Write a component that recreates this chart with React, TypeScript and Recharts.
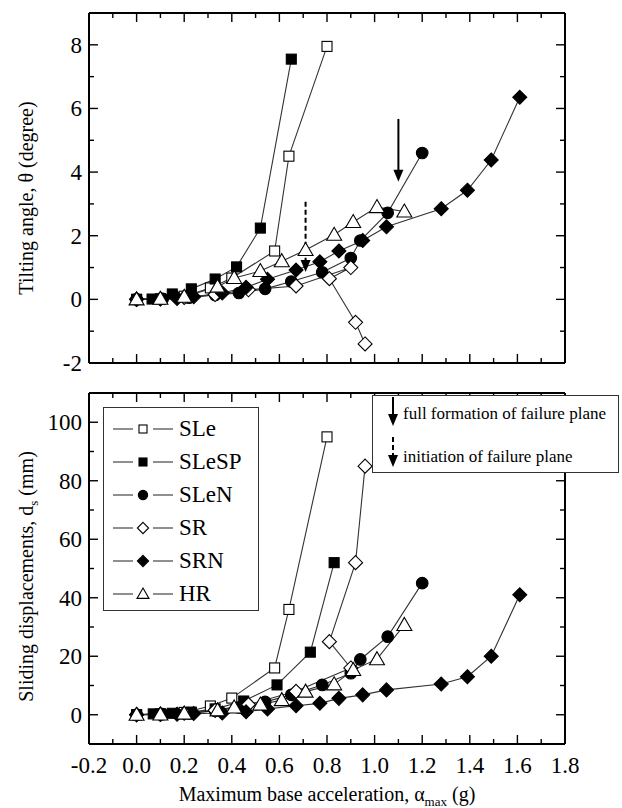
import React from 'react';
import { LineChart, Line, XAxis, YAxis, ReferenceLine, ReferenceDot, Legend } from 'recharts';

const FONT = "'Liberation Serif', 'Times New Roman', Times, serif";

// axis ticks
const xMajorTicks = [-0.2, 0, 0.2, 0.4, 0.6, 0.8, 1.0, 1.2, 1.4, 1.6, 1.8];
const xMinorTicks = [-0.1, 0.1, 0.3, 0.5, 0.7, 0.9, 1.1, 1.3, 1.5, 1.7];
const tiltMajorTicks = [-2, 0, 2, 4, 6, 8];
const tiltMinorTicks = [-1, 1, 3, 5, 7];
const slideMajorTicks = [0, 20, 40, 60, 80, 100];
const slideMinorTicks = [10, 30, 50, 70, 90];

// SLe
const sleTiltX = [0, 0.1, 0.2, 0.31, 0.4, 0.58, 0.64, 0.8];
const sleTiltY = [0, 0.02, 0.1, 0.36, 0.67, 1.52, 4.5, 7.95];
const sleSlideX = [0, 0.1, 0.2, 0.31, 0.4, 0.58, 0.64, 0.8];
const sleSlideY = [0, 0.3, 0.8, 3, 5.7, 16, 36, 95];
// SLeSP
const slespTiltX = [0, 0.065, 0.15, 0.23, 0.33, 0.42, 0.52, 0.65];
const slespTiltY = [0, 0.01, 0.17, 0.33, 0.64, 1.02, 2.24, 7.55];
const slespSlideX = [0, 0.07, 0.15, 0.23, 0.33, 0.45, 0.59, 0.73, 0.83];
const slespSlideY = [0, 0.3, 0.5, 0.9, 2.0, 4.7, 10.2, 21.4, 52];
// SLeN
const slenX = [0, 0.11, 0.22, 0.33, 0.43, 0.54, 0.65, 0.78, 0.9, 0.94, 1.055, 1.2];
const slenTiltY = [0, 0.02, 0.05, 0.14, 0.2, 0.33, 0.56, 0.85, 1.3, 1.85, 2.72, 4.6];
const slenSlideY = [0, 0.2, 0.5, 1.4, 2.5, 4.4, 6.8, 10.2, 14.2, 18.9, 26.7, 45];
// SR (in test order, not sorted by acceleration)
const srX = [0, 0.1, 0.2, 0.33, 0.47, 0.67, 0.9, 0.81, 0.92, 0.96];
const srTiltY = [0, 0.02, 0.06, 0.15, 0.3, 0.42, 1.0, 0.65, -0.72, -1.4];
const srSlideY = [0, 0.2, 0.5, 1.5, 3.5, 8, 16, 25, 52, 85];
// SRN
const srnX = [0, 0.1, 0.17, 0.24, 0.36, 0.46, 0.55, 0.67, 0.77, 0.85, 0.95, 1.05, 1.28, 1.39, 1.49, 1.61];
const srnTiltY = [0, 0.01, 0.03, 0.08, 0.2, 0.38, 0.63, 0.92, 1.18, 1.52, 1.85, 2.28, 2.85, 3.43, 4.38, 6.35];
const srnSlideY = [0, 0.1, 0.2, 0.4, 0.6, 1.0, 2.0, 3.1, 3.9, 5.6, 6.8, 8.5, 10.5, 13.0, 20.0, 41.0];
// HR
const hrX = [0, 0.1, 0.2, 0.34, 0.41, 0.52, 0.61, 0.71, 0.83, 0.91, 1.01, 1.125];
const hrTiltY = [0, 0.02, 0.08, 0.4, 0.67, 0.89, 1.2, 1.55, 2.03, 2.43, 2.9, 2.76];
const hrSlideY = [0, 0.1, 0.4, 1.5, 2.5, 3.5, 5.0, 7.9, 10.4, 15.3, 19.0, 30.7];

// arrows in the tilting panel: [x, start y, tip y]
const fullFormationArrow = [1.1, 5.67, 3.7];
const initiationArrow = [0.71, 3.07, 0.86];

const zip = (xs: number[], ys: number[]) => xs.map((x, i) => ({ x, y: ys[i] }));

type Kind = 'square' | 'circle' | 'diamond' | 'triangle';
const series: { name: string; kind: Kind; filled: boolean; tilt: any[]; slide: any[] }[] = [
  { name: 'SLe', kind: 'square', filled: false, tilt: zip(sleTiltX, sleTiltY), slide: zip(sleSlideX, sleSlideY) },
  { name: 'SLeSP', kind: 'square', filled: true, tilt: zip(slespTiltX, slespTiltY), slide: zip(slespSlideX, slespSlideY) },
  { name: 'SLeN', kind: 'circle', filled: true, tilt: zip(slenX, slenTiltY), slide: zip(slenX, slenSlideY) },
  { name: 'SR', kind: 'diamond', filled: false, tilt: zip(srX, srTiltY), slide: zip(srX, srSlideY) },
  { name: 'SRN', kind: 'diamond', filled: true, tilt: zip(srnX, srnTiltY), slide: zip(srnX, srnSlideY) },
  { name: 'HR', kind: 'triangle', filled: false, tilt: zip(hrX, hrTiltY), slide: zip(hrX, hrSlideY) },
];

const Marker = ({ kind, filled, cx, cy, s = 1 }: { kind: Kind; filled: boolean; cx: number; cy: number; s?: number }) => {
  const st = { fill: filled ? '#000' : '#fff', stroke: '#000', strokeWidth: 1.1 };
  if (kind === 'square') return <rect x={cx - 5 * s} y={cy - 5 * s} width={10 * s} height={10 * s} {...st} />;
  if (kind === 'circle') return <circle cx={cx} cy={cy} r={5.8 * s} {...st} />;
  if (kind === 'diamond') {
    const h = 7 * s;
    return <polygon points={`${cx},${cy - h} ${cx + h},${cy} ${cx},${cy + h} ${cx - h},${cy}`} {...st} />;
  }
  return <polygon points={`${cx},${cy - 7.5 * s} ${cx + 7.5 * s},${cy + 5.5 * s} ${cx - 7.5 * s},${cy + 5.5 * s}`} {...st} />;
};

const isMajor = (v: number, majors: number[]) => majors.some((m) => Math.abs(m - v) < 1e-6);

const makeTick = (side: string, majors: number[], label: boolean, digits = 0) => (props: any) => {
  const { x, y, payload } = props;
  const v = payload.value;
  const major = isMajor(v, majors);
  const len = major ? 9 : 5;
  let ln;
  if (side === 'bottom') ln = <line x1={x} x2={x} y1={y} y2={y - len} />;
  else if (side === 'top') ln = <line x1={x} x2={x} y1={y} y2={y + len} />;
  else if (side === 'left') ln = <line x1={x} x2={x + len} y1={y} y2={y} />;
  else ln = <line x1={x} x2={x - len} y1={y} y2={y} />;
  let txt = null;
  if (label && major) {
    const s = v.toFixed(digits);
    txt =
      side === 'bottom' ? (
        <text x={x} y={y + 29} textAnchor="middle" style={{ fontSize: 23, fontFamily: FONT }} fill="#000">{s}</text>
      ) : (
        <text x={x - 7} y={y} dy="0.34em" textAnchor="end" style={{ fontSize: 23, fontFamily: FONT }} fill="#000">{s}</text>
      );
  }
  return (
    <g>
      <g stroke="#000" strokeWidth={1.4}>{ln}</g>
      {txt}
    </g>
  );
};

const axisLine = { stroke: '#000', strokeWidth: 2 };
const xTicks = [...xMajorTicks, ...xMinorTicks].sort((a, b) => a - b);
const tiltTicks = [...tiltMajorTicks, ...tiltMinorTicks].sort((a, b) => a - b);
const slideTicks = [...slideMajorTicks, ...slideMinorTicks].sort((a, b) => a - b);

const renderDot = (s: any, tag: string) => (p: any) => (
  <Marker key={`${tag}-${s.name}-${p.index}`} kind={s.kind} filled={s.filled} cx={p.cx} cy={p.cy} />
);

const titleStyle = { fontSize: 20, fontFamily: FONT };

const TiltTitle = (props: any) => {
  const vb = props.viewBox || { x: 0, y: 13, width: 89, height: 350 };
  const cy = vb.y + vb.height / 2 + 10;
  return (
    <text x={33} y={cy} transform={`rotate(-90 33 ${cy})`} textAnchor="middle" style={titleStyle} fill="#000">
      Tilting angle, θ (degree)
    </text>
  );
};

const SlideTitle = (props: any) => {
  const vb = props.viewBox || { x: 0, y: 13, width: 89, height: 351 };
  const cy = vb.y + vb.height / 2 + 8;
  return (
    <text x={33} y={cy} transform={`rotate(-90 33 ${cy})`} textAnchor="middle" style={titleStyle} fill="#000">
      <tspan>Sliding displacements, d</tspan>
      <tspan dy={5} style={{ fontSize: 13 }}>s</tspan>
      <tspan dy={-5}> (mm)</tspan>
    </text>
  );
};

const AccTitle = (props: any) => {
  const vb = props.viewBox || { x: 89, y: 364, width: 476, height: 64 };
  return (
    <text x={vb.x + vb.width / 2} y={vb.y + 57} textAnchor="middle" style={titleStyle} fill="#000">
      <tspan>Maximum base acceleration, α</tspan>
      <tspan dy={5} style={{ fontSize: 13 }}>max</tspan>
      <tspan dy={-5}> (g)</tspan>
    </text>
  );
};

const arrowHead = (p: any) => (
  <polygon points={`${p.cx - 5},${p.cy - 12} ${p.cx + 5},${p.cy - 12} ${p.cx},${p.cy}`} fill="#000" />
);

const LegendBox = () => (
  <div style={{ width: 156, height: 204, border: '1.5px solid #333', boxSizing: 'border-box', background: '#fff', paddingTop: 4 }}>
    {series.map((s) => (
      <div key={s.name} style={{ display: 'flex', alignItems: 'center', height: 33 }}>
        <svg width={75} height={20} style={{ display: 'block' }}>
          <line x1={9} x2={29} y1={10} y2={10} stroke="#333" strokeWidth={1.1} />
          <Marker kind={s.kind} filled={s.filled} cx={39} cy={10} s={0.8} />
          <line x1={49} x2={69} y1={10} y2={10} stroke="#333" strokeWidth={1.1} />
        </svg>
        <span style={{ fontFamily: FONT, fontSize: 23, lineHeight: '23px' }}>{s.name}</span>
      </div>
    ))}
  </div>
);

const AnnotationBox = () => (
  <div style={{ position: 'absolute', left: 372, top: 15, width: 247, height: 78, border: '1.5px solid #333', boxSizing: 'border-box', background: '#fff', fontFamily: FONT, fontSize: 17 }}>
    <svg width={40} height={78} style={{ position: 'absolute', left: 0, top: 0 }}>
      <line x1={20} x2={20} y1={1} y2={20} stroke="#000" strokeWidth={2} />
      <polygon points="15,18 25,18 20,30" fill="#000" />
      <line x1={20} x2={20} y1={41} y2={60} stroke="#000" strokeWidth={2} strokeDasharray="5 3" />
      <polygon points="15,59 25,59 20,71" fill="#000" />
    </svg>
    <span style={{ position: 'absolute', left: 30, top: 8, lineHeight: '20px', whiteSpace: 'nowrap' }}>full formation of failure plane</span>
    <span style={{ position: 'absolute', left: 30, top: 51, lineHeight: '20px', whiteSpace: 'nowrap' }}>initiation of failure plane</span>
  </div>
);

export default function App() {
  return (
    <div style={{ position: 'absolute', left: 0, top: 0, width: 622, height: 808, background: '#fff', fontFamily: FONT }}>
      <LineChart width={622} height={380} margin={{ top: 8, right: 37, bottom: 7, left: 0 }}>
        <XAxis xAxisId="b" type="number" dataKey="x" domain={[-0.2, 1.8]} allowDataOverflow ticks={xTicks} interval={0}
          tickSize={0} tickMargin={0} tickLine={false} axisLine={axisLine} height={10} tick={makeTick('bottom', xMajorTicks, false)} />
        <XAxis xAxisId="t" orientation="top" type="number" dataKey="x" domain={[-0.2, 1.8]} allowDataOverflow ticks={xTicks} interval={0}
          tickSize={0} tickMargin={0} tickLine={false} axisLine={axisLine} height={5} tick={makeTick('top', xMajorTicks, false)} />
        <YAxis yAxisId="l" type="number" domain={[-2, 9]} allowDataOverflow ticks={tiltTicks} interval={0}
          tickSize={0} tickMargin={0} tickLine={false} axisLine={axisLine} width={89} tick={makeTick('left', tiltMajorTicks, true)}
          label={{ content: TiltTitle }} />
        <YAxis yAxisId="r" orientation="right" type="number" domain={[-2, 9]} allowDataOverflow ticks={tiltTicks} interval={0}
          tickSize={0} tickMargin={0} tickLine={false} axisLine={axisLine} width={20} tick={makeTick('right', tiltMajorTicks, false)} />
        {series.map((s) => (
          <Line key={s.name} xAxisId="b" yAxisId="l" data={s.tilt} dataKey="y" name={s.name} type="linear"
            stroke="#333" strokeWidth={1.1} dot={renderDot(s, 't')} isAnimationActive={false} />
        ))}
        <ReferenceLine xAxisId="b" yAxisId="l" segment={[{ x: fullFormationArrow[0], y: fullFormationArrow[1] }, { x: fullFormationArrow[0], y: fullFormationArrow[2] + 0.3 }]}
          stroke="#000" strokeWidth={2} />
        <ReferenceDot xAxisId="b" yAxisId="l" x={fullFormationArrow[0]} y={fullFormationArrow[2]} shape={arrowHead} />
        <ReferenceLine xAxisId="b" yAxisId="l" segment={[{ x: initiationArrow[0], y: initiationArrow[1] }, { x: initiationArrow[0], y: initiationArrow[2] + 0.3 }]}
          stroke="#000" strokeWidth={2} strokeDasharray="5 3" />
        <ReferenceDot xAxisId="b" yAxisId="l" x={initiationArrow[0]} y={initiationArrow[2]} shape={arrowHead} />
      </LineChart>
      <div style={{ position: 'relative' }}>
        <LineChart width={622} height={428} margin={{ top: 8, right: 37, bottom: 0, left: 0 }}>
          <XAxis xAxisId="b" type="number" dataKey="x" domain={[-0.2, 1.8]} allowDataOverflow ticks={xTicks} interval={0}
            tickSize={0} tickMargin={0} tickLine={false} axisLine={axisLine} height={64} tick={makeTick('bottom', xMajorTicks, true, 1)}
            label={{ content: AccTitle }} />
          <XAxis xAxisId="t" orientation="top" type="number" dataKey="x" domain={[-0.2, 1.8]} allowDataOverflow ticks={xTicks} interval={0}
            tickSize={0} tickMargin={0} tickLine={false} axisLine={axisLine} height={5} tick={makeTick('top', xMajorTicks, false)} />
          <YAxis yAxisId="l" type="number" domain={[-10, 110]} allowDataOverflow ticks={slideTicks} interval={0}
            tickSize={0} tickMargin={0} tickLine={false} axisLine={axisLine} width={89} tick={makeTick('left', slideMajorTicks, true)}
            label={{ content: SlideTitle }} />
          <YAxis yAxisId="r" orientation="right" type="number" domain={[-10, 110]} allowDataOverflow ticks={slideTicks} interval={0}
            tickSize={0} tickMargin={0} tickLine={false} axisLine={axisLine} width={20} tick={makeTick('right', slideMajorTicks, false)} />
          {series.map((s) => (
            <Line key={s.name} xAxisId="b" yAxisId="l" data={s.slide} dataKey="y" name={s.name} type="linear"
              stroke="#333" strokeWidth={1.1} dot={renderDot(s, 's')} isAnimationActive={false} />
          ))}
          <Legend layout="vertical" align="center" verticalAlign="middle" content={<LegendBox />}
            wrapperStyle={{ left: 103, top: 27, width: 156 }} />
        </LineChart>
        <AnnotationBox />
      </div>
    </div>
  );
}
